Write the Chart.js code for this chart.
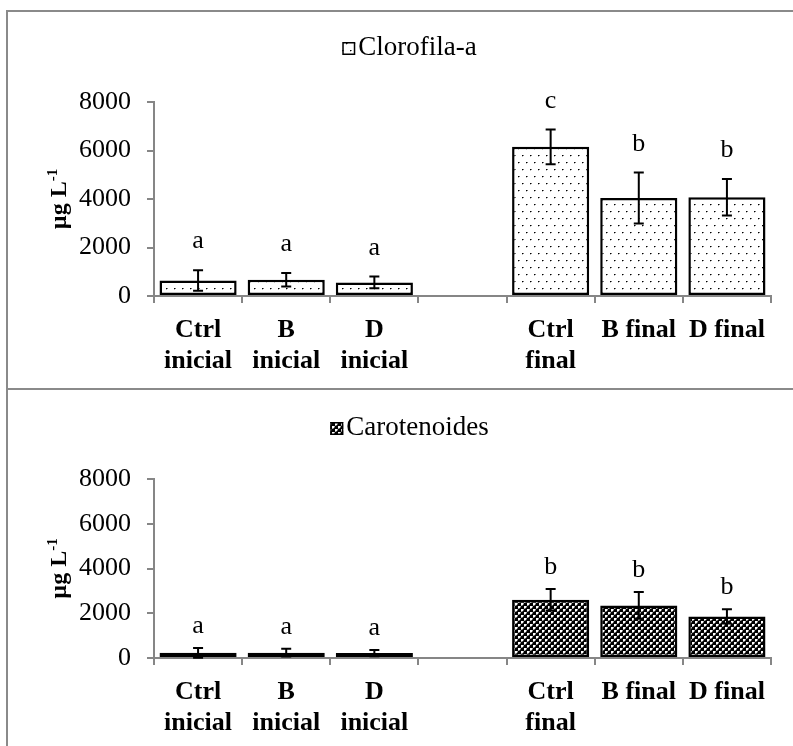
<!DOCTYPE html>
<html>
<head>
<meta charset="utf-8">
<script src="https://cdn.jsdelivr.net/npm/chart.js@4/dist/chart.umd.min.js"></script>
<style>
  html, body { margin: 0; padding: 0; background: #fff; width: 793px; height: 746px; overflow: hidden; }
  #frame { position: absolute; left: 6px; top: 10px; width: 803px; border: 2px solid #8a8a8a; border-bottom: none; }
  #p1 { height: 376px; border-bottom: 2px solid #8a8a8a; }
  #p2 { height: 360px; }
  canvas { display: block; }
</style>
</head>
<body>
<div id="frame">
  <div id="p1"><canvas id="chlA" width="803" height="376"></canvas></div>
  <div id="p2"><canvas id="carot" width="803" height="360"></canvas></div>
</div>
<script>
// Treatments (an empty slot separates the initial and final samplings)
const categories = [["Ctrl", "inicial"], ["B", "inicial"], ["D", "inicial"], "", ["Ctrl", "final"], "B final", "D final"];

// Chlorophyll-a, µg L-1 (mean and standard deviation)
const clorofila     = [640, 670, 560, null, 6150, 4040, 4070];
const clorofilaSD   = [420, 280, 240, null, 715, 1050, 755];
const clorofilaSig  = ["a", "a", "a", "", "c", "b", "b"];

// Carotenoids, µg L-1 (mean and standard deviation)
const carotenoides    = [230, 240, 220, null, 2600, 2350, 1860];
const carotenoidesSD  = [220, 170, 140, null, 480, 600, 320];
const carotenoidesSig = ["a", "a", "a", "", "b", "b", "b"];

// Value axis
const yTicks = [0, 2000, 4000, 6000, 8000];

const SERIF = '"Liberation Serif", "Times New Roman", serif';
const AXIS_GREY = '#868686';

// Fill patterns for the two series
function dottedPattern() {
  const c = document.createElement('canvas');
  c.width = 8; c.height = 14;
  const g = c.getContext('2d');
  g.fillStyle = '#fff'; g.fillRect(0, 0, 8, 14);
  g.fillStyle = '#000'; g.fillRect(2, 3, 1, 1); g.fillRect(6, 10, 1, 1);
  g.fillStyle = '#777'; g.fillRect(3, 3, 1, 1); g.fillRect(7, 10, 1, 1);
  g.fillStyle = '#bbb'; g.fillRect(2, 4, 1, 1); g.fillRect(6, 11, 1, 1);
  return g.createPattern(c, 'repeat');
}
function meshPattern() {
  const c = document.createElement('canvas');
  c.width = 6; c.height = 6;
  const g = c.getContext('2d');
  g.fillStyle = '#000'; g.fillRect(0, 0, 6, 6);
  g.fillStyle = '#fff'; g.fillRect(0, 0, 2, 2); g.fillRect(3, 3, 2, 2);
  g.fillStyle = '#b0b0b0';
  g.fillRect(2, 0, 1, 1); g.fillRect(0, 2, 1, 1); g.fillRect(5, 3, 1, 1); g.fillRect(3, 5, 1, 1);
  g.fillStyle = '#555';
  g.fillRect(2, 1, 1, 1); g.fillRect(1, 2, 1, 1); g.fillRect(5, 4, 1, 1); g.fillRect(4, 5, 1, 1);
  return g.createPattern(c, 'repeat');
}

// Error bars, significance letters, legend and the y-axis title
const extras = {
  id: 'extras',
  afterDatasetsDraw(chart) {
    const o = chart.options.plugins.extras;
    const ctx = chart.ctx;
    const ys = chart.scales.y;
    const meta = chart.getDatasetMeta(0);
    const data = chart.data.datasets[0].data;
    ctx.save();
    data.forEach((v, i) => {
      if (v == null) return;
      const x = meta.data[i].x;
      const yTop = ys.getPixelForValue(v + o.sd[i]);
      const yBot = ys.getPixelForValue(v - o.sd[i]);
      ctx.strokeStyle = '#000';
      ctx.lineWidth = 2;
      ctx.beginPath();
      ctx.moveTo(x, yTop); ctx.lineTo(x, yBot);
      ctx.moveTo(x - 5, yTop); ctx.lineTo(x + 5, yTop);
      ctx.moveTo(x - 5, yBot); ctx.lineTo(x + 5, yBot);
      ctx.stroke();
      ctx.fillStyle = '#000';
      ctx.font = '26px ' + SERIF;
      ctx.textAlign = 'center';
      ctx.textBaseline = 'alphabetic';
      ctx.fillText(o.letters[i], x, yTop - o.letterGap);
    });
    ctx.restore();
  },
  afterDraw(chart) {
    const o = chart.options.plugins.extras;
    const ctx = chart.ctx;
    const ds = chart.data.datasets[0];
    ctx.save();
    // legend
    ctx.font = '27px ' + SERIF;
    const tw = ctx.measureText(ds.label).width;
    const box = 13, gap = 3;
    const total = box + gap + tw;
    const left = chart.width / 2 - total / 2;
    const base = o.legendBaseline;
    ctx.fillStyle = ds.backgroundColor;
    ctx.fillRect(left, base - box, box, box);
    ctx.strokeStyle = '#000';
    ctx.lineWidth = 1.5;
    ctx.strokeRect(left + 0.75, base - box + 0.75, box - 1.5, box - 1.5);
    ctx.fillStyle = '#000';
    ctx.textAlign = 'left';
    ctx.textBaseline = 'alphabetic';
    ctx.fillText(ds.label, left + box + gap, base);
    // y-axis title: µg L-1
    const ca = chart.chartArea;
    ctx.translate(58, (ca.top + ca.bottom) / 2);
    ctx.rotate(-Math.PI / 2);
    const main = 'µg L', sup = '-1';
    ctx.font = 'bold 24px ' + SERIF;
    const wm = ctx.measureText(main).width;
    ctx.font = 'bold 15px ' + SERIF;
    const ws = ctx.measureText(sup).width;
    const start = -(wm + ws) / 2;
    ctx.font = 'bold 24px ' + SERIF;
    ctx.fillText(main, start, 0);
    ctx.font = 'bold 15px ' + SERIF;
    ctx.fillText(sup, start + wm, -9);
    ctx.restore();
  }
};

function makeChart(id, label, values, sd, letters, fill, opts) {
  return new Chart(document.getElementById(id), {
    type: 'bar',
    data: {
      labels: categories,
      datasets: [{
        label: label,
        data: values,
        backgroundColor: fill,
        borderColor: '#000',
        borderWidth: 2.5,
        borderSkipped: false,
        barPercentage: 0.875,
        categoryPercentage: 1.0
      }]
    },
    options: {
      responsive: false,
      animation: false,
      layout: { padding: { left: 40, right: 40, top: opts.top, bottom: 0 } },
      plugins: {
        legend: { display: false },
        tooltip: { enabled: false },
        extras: { sd: sd, letters: letters, letterGap: opts.letterGap, legendBaseline: opts.legendBaseline }
      },
      scales: {
        x: {
          grid: { display: true, offset: true, drawOnChartArea: false, drawTicks: true, tickLength: 7, color: AXIS_GREY, lineWidth: 2 },
          border: { display: true, color: AXIS_GREY, width: 2 },
          ticks: { color: '#000', padding: 12, maxRotation: 0, autoSkip: false,
                   font: { family: SERIF, size: 26, weight: 'bold', lineHeight: 1.18 } },
          afterFit(s) { s.height = 92; }
        },
        y: {
          min: 0, max: 8000,
          afterBuildTicks(s) { s.ticks = yTicks.map(v => ({ value: v })); },
          grid: { display: true, drawOnChartArea: false, drawTicks: true, tickLength: 7, color: AXIS_GREY, lineWidth: 2 },
          border: { display: true, color: AXIS_GREY, width: 2 },
          ticks: { color: '#000', padding: 16, font: { family: SERIF, size: 26 },
                   callback: v => String(v) },
          afterFit(s) { s.width = 106; }
        }
      }
    },
    plugins: [extras]
  });
}

makeChart('chlA', 'Clorofila-a', clorofila, clorofilaSD, clorofilaSig, dottedPattern(),
          { top: 90, letterGap: 22, legendBaseline: 43 });
makeChart('carot', 'Carotenoides', carotenoides, carotenoidesSD, carotenoidesSig, meshPattern(),
          { top: 89, letterGap: 15, legendBaseline: 45 });
</script>
</body>
</html>
